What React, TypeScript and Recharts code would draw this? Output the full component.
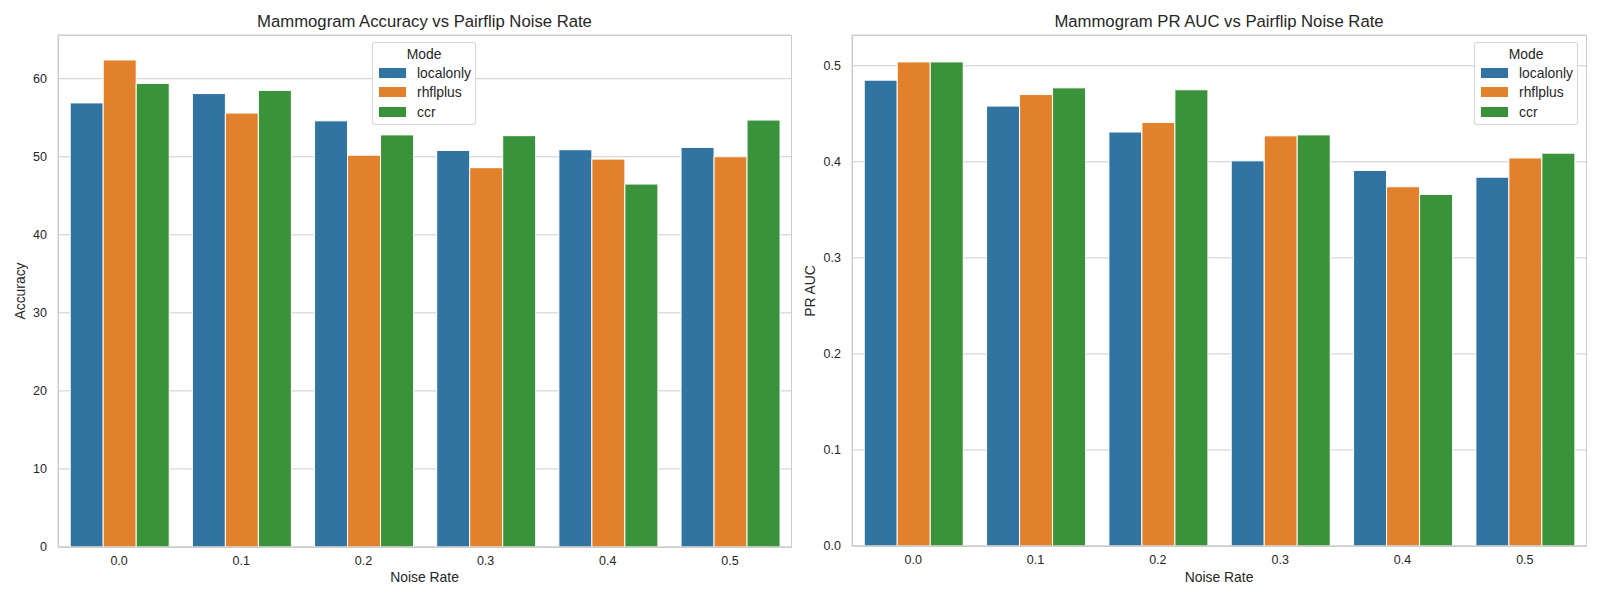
import React from "react";
import {
  BarChart,
  Bar,
  XAxis,
  YAxis,
  CartesianGrid,
  Legend,
} from "recharts";

const noiseRates = ["0.0", "0.1", "0.2", "0.3", "0.4", "0.5"];
const modes = ["localonly", "rhflplus", "ccr"];
const modeColors = ["#3274a1", "#e1812c", "#3a923a"];

const accLocalonly = [56.9, 58.1, 54.6, 50.8, 50.9, 51.2];
const accRhflplus = [62.4, 55.6, 50.2, 48.6, 49.7, 50.0];
const accCcr = [59.4, 58.5, 52.8, 52.7, 46.5, 54.7];
const accTicks = [0, 10, 20, 30, 40, 50, 60];

const prLocalonly = [0.485, 0.458, 0.431, 0.401, 0.391, 0.384];
const prRhflplus = [0.504, 0.47, 0.441, 0.427, 0.374, 0.404];
const prCcr = [0.504, 0.477, 0.475, 0.428, 0.366, 0.409];
const prTicks = [0, 0.1, 0.2, 0.3, 0.4, 0.5];

const FONT = '"Liberation Sans", Arial, sans-serif';
const TEXT = "#262626";
const GRID = "#cccccc";

const accData = noiseRates.map((rate, i) => ({
  rate,
  localonly: accLocalonly[i],
  rhflplus: accRhflplus[i],
  ccr: accCcr[i],
}));

const prData = noiseRates.map((rate, i) => ({
  rate,
  localonly: prLocalonly[i],
  rhflplus: prRhflplus[i],
  ccr: prCcr[i],
}));

function ModeLegend() {
  return (
    <div
      style={{
        width: 104,
        boxSizing: "border-box",
        border: "1px solid rgba(204,204,204,0.8)",
        borderRadius: 3,
        background: "rgba(255,255,255,0.8)",
        padding: "2px 0 2px 6px",
        fontFamily: FONT,
        fontSize: 13.9,
        color: TEXT,
      }}
    >
      <div style={{ textAlign: "center", lineHeight: "18px", marginLeft: -6 }}>Mode</div>
      {modes.map((m, i) => (
        <div key={m} style={{ display: "flex", alignItems: "center", height: 19.5 }}>
          <span
            style={{
              display: "inline-block",
              width: 27,
              height: 10,
              background: modeColors[i],
              marginRight: 11,
            }}
          />
          <span>{m}</span>
        </div>
      ))}
    </div>
  );
}

interface PanelProps {
  data: any[];
  domain: [number, number];
  ticks: number[];
  fmt: (v: number) => string;
  margin: { top: number; right: number; bottom: number; left: number };
  yWidth: number;
  legendLeft: number;
}

function Panel({ data, domain, ticks, fmt, margin, yWidth, legendLeft }: PanelProps) {
  return (
    <BarChart
      width={800}
      height={600}
      data={data}
      margin={margin}
      barCategoryGap="10%"
      barGap={0}
    >
      <CartesianGrid horizontal vertical={false} stroke={GRID} strokeWidth={1} />
      <XAxis
        dataKey="rate"
        type="category"
        height={30}
        axisLine={{ stroke: GRID }}
        tickLine={false}
        tickSize={0}
        tickMargin={9}
        tick={{ fill: TEXT, fontSize: 12.5, fontFamily: FONT }}
        interval={0}
      />
      <YAxis
        type="number"
        width={yWidth}
        domain={domain}
        ticks={ticks}
        tickFormatter={fmt}
        axisLine={{ stroke: GRID }}
        tickLine={false}
        tickSize={0}
        tickMargin={11}
        tick={{ fill: TEXT, fontSize: 12.5, fontFamily: FONT }}
      />
      {modes.map((m, i) => (
        <Bar
          key={m}
          dataKey={m}
          fill={modeColors[i]}
          stroke="#ffffff"
          strokeWidth={1}
          isAnimationActive={false}
        />
      ))}
      <Legend
        align="center"
        verticalAlign="middle"
        content={() => <ModeLegend />}
        wrapperStyle={{ left: legendLeft, top: 42, width: 104, height: 82 }}
      />
    </BarChart>
  );
}

export default function App() {
  const accMargin = { top: 35, right: 9, bottom: 23, left: 8 };
  const prMargin = { top: 35, right: 14, bottom: 24, left: 8 };
  return (
    <div
      style={{
        position: "fixed",
        left: 0,
        top: 0,
        width: 1600,
        height: 600,
        background: "#ffffff",
        fontFamily: FONT,
      }}
    >
      <div style={{ position: "absolute", left: 0, top: 0, width: 800, height: 600 }}>
        <Panel
          data={accData}
          domain={[0, 65.6]}
          ticks={accTicks}
          fmt={(v) => String(v)}
          margin={accMargin}
          yWidth={50}
          legendLeft={372}
        />
      </div>
      <div style={{ position: "absolute", left: 800, top: 0, width: 800, height: 600 }}>
        <Panel
          data={prData}
          domain={[0, 0.532]}
          ticks={prTicks}
          fmt={(v) => v.toFixed(1)}
          margin={prMargin}
          yWidth={44}
          legendLeft={674}
        />
      </div>
      {/* frames, titles and axis labels */}
      <svg
        width={1600}
        height={600}
        style={{ position: "absolute", left: 0, top: 0, pointerEvents: "none" }}
      >
        <rect x={58.5} y={35.5} width={733} height={512} fill="none" stroke={GRID} />
        <rect x={852.5} y={35.5} width={734} height={511} fill="none" stroke={GRID} />
        <text x={424.5} y={27} textAnchor="middle" fontSize={16.7} fill={TEXT} fontFamily={FONT}>
          Mammogram Accuracy vs Pairflip Noise Rate
        </text>
        <text x={1219} y={27} textAnchor="middle" fontSize={16.7} fill={TEXT} fontFamily={FONT}>
          Mammogram PR AUC vs Pairflip Noise Rate
        </text>
        <text x={424.5} y={582} textAnchor="middle" fontSize={13.9} fill={TEXT} fontFamily={FONT}>
          Noise Rate
        </text>
        <text x={1219} y={582} textAnchor="middle" fontSize={13.9} fill={TEXT} fontFamily={FONT}>
          Noise Rate
        </text>
        <text
          x={25}
          y={291}
          textAnchor="middle"
          fontSize={13.9}
          fill={TEXT}
          fontFamily={FONT}
          transform="rotate(-90 25 291)"
        >
          Accuracy
        </text>
        <text
          x={815}
          y={291}
          textAnchor="middle"
          fontSize={13.9}
          fill={TEXT}
          fontFamily={FONT}
          transform="rotate(-90 815 291)"
        >
          PR AUC
        </text>
      </svg>
    </div>
  );
}
